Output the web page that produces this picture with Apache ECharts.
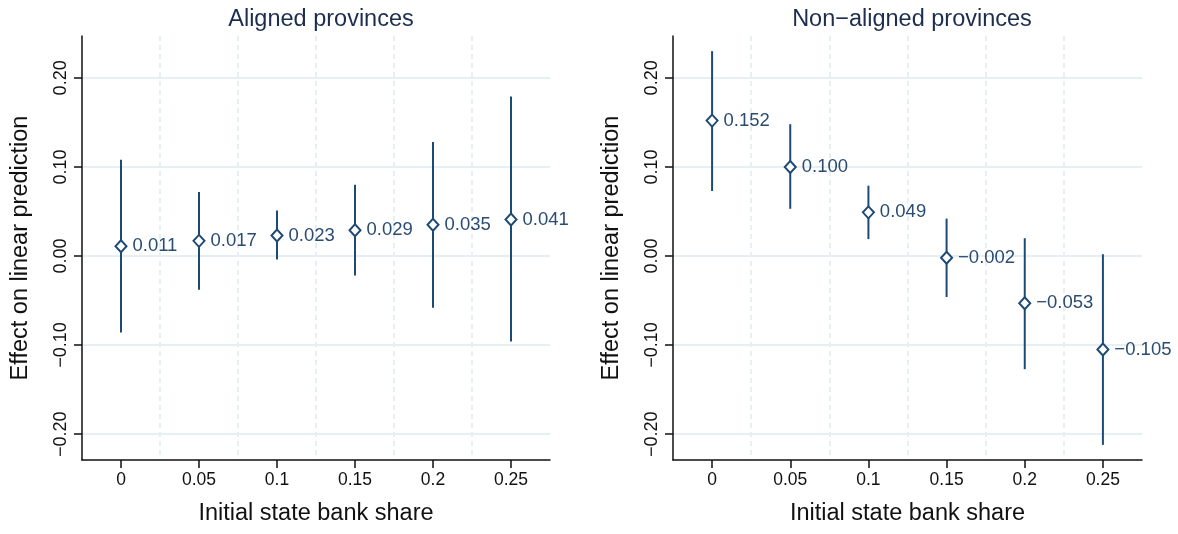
<!DOCTYPE html>
<html>
<head>
<meta charset="utf-8">
<script src="https://cdn.jsdelivr.net/npm/echarts@6/dist/echarts.min.js"></script>
<style>
    html, body { margin: 0; padding: 0; background: #ffffff; }
    #chart { width: 1178px; height: 534px; }
</style>
</head>
<body>
<div id="chart"></div>
<script>
var shares = ["0", "0.05", "0.1", "0.15", "0.2", "0.25"];
var yTicks = [-0.2, -0.1, 0, 0.1, 0.2];

// aligned provinces: point estimate and 95% CI
var alignedEst = [0.011, 0.017, 0.023, 0.029, 0.035, 0.041];
var alignedLo = [-0.086, -0.038, -0.004, -0.022, -0.058, -0.096];
var alignedHi = [0.108, 0.072, 0.051, 0.080, 0.128, 0.179];

// non-aligned provinces
var nonAlignedEst = [0.152, 0.100, 0.049, -0.002, -0.053, -0.105];
var nonAlignedLo = [0.073, 0.053, 0.019, -0.046, -0.127, -0.212];
var nonAlignedHi = [0.230, 0.148, 0.079, 0.042, 0.020, 0.002];

var navy = "#1d4a75";
var gridColor = "#e6eff1";
var font = "'Liberation Sans', Arial, sans-serif";

function fmt(v, d) {
    return v.toFixed(d).replace("-", "\u2212");
}

function points(est) {
    var out = [];
    for (var i = 0; i < est.length; i++) {
        out.push([i, est[i]]);
    }
    return out;
}

function bars(lo, hi) {
    var out = [];
    for (var i = 0; i < lo.length; i++) {
        out.push([i, lo[i], hi[i]]);
    }
    return out;
}

function renderBar(params, api) {
    var top = api.coord([api.value(0), api.value(2)]);
    var bottom = api.coord([api.value(0), api.value(1)]);
    return {
        type: "line",
        shape: { x1: top[0], y1: top[1], x2: bottom[0], y2: bottom[1] },
        style: { stroke: navy, lineWidth: 2 }
    };
}

function xAxisFor(idx) {
    return {
        type: "category",
        gridIndex: idx,
        data: shares,
        boundaryGap: true,
        name: "Initial state bank share",
        nameLocation: "middle",
        nameGap: 42,
        nameTextStyle: { fontSize: 23.5, color: "#111", fontFamily: font },
        axisLine: { onZero: false, lineStyle: { color: "#111", width: 1.5 } },
        axisTick: { show: true, alignWithLabel: true, length: 8, lineStyle: { color: "#111", width: 1.5 } },
        axisLabel: { fontSize: 17.5, color: "#111", margin: 11, fontFamily: font },
        splitLine: {
            show: true,
            showMinLine: false,
            showMaxLine: false,
            lineStyle: { color: gridColor, width: 2, type: [5, 4] }
        }
    };
}

function yAxisFor(idx) {
    return {
        type: "value",
        gridIndex: idx,
        min: -0.229,
        max: 0.247,
        name: "Effect on linear prediction",
        nameLocation: "middle",
        nameRotate: 90,
        nameGap: 49,
        nameTextStyle: { fontSize: 23.5, color: "#111", fontFamily: font },
        axisLine: { show: true, onZero: false, lineStyle: { color: "#111", width: 1.5 } },
        axisTick: { show: true, length: 8, customValues: yTicks, lineStyle: { color: "#111", width: 1.5 } },
        axisLabel: {
            rotate: 90,
            fontSize: 18,
            color: "#111",
            margin: 12,
            fontFamily: font,
            customValues: yTicks,
            formatter: function(v) { return fmt(v, 2); }
        },
        splitLine: { show: true, lineStyle: { color: gridColor, width: 2 } }
    };
}

function pointSeries(idx, est) {
    return {
        type: "scatter",
        xAxisIndex: idx,
        yAxisIndex: idx,
        data: points(est),
        symbol: "diamond",
        symbolSize: [11, 12],
        z: 5,
        itemStyle: { color: "#ffffff", borderColor: navy, borderWidth: 2, opacity: 1 },
        label: {
            show: true,
            position: "right",
            distance: 5,
            fontSize: 18.5,
            color: "#2b4c72",
            fontFamily: font,
            formatter: function(p) { return fmt(p.value[1], 3); }
        }
    };
}

function barSeries(idx, lo, hi) {
    return {
        type: "custom",
        xAxisIndex: idx,
        yAxisIndex: idx,
        data: bars(lo, hi),
        encode: { x: 0, y: [1, 2] },
        renderItem: renderBar,
        z: 2
    };
}

var myChart = echarts.init(document.getElementById("chart"));

var option = {
    animation: false,
    backgroundColor: "#ffffff",
    title: [{
        text: "Aligned provinces",
        left: 316,
        top: 3,
        textAlign: "center",
        textStyle: { fontSize: 23.5, fontWeight: "normal", color: "#1c2d50", fontFamily: font }
    }, {
        text: "Non\u2212aligned provinces",
        left: 907,
        top: 3,
        textAlign: "center",
        textStyle: { fontSize: 23.5, fontWeight: "normal", color: "#1c2d50", fontFamily: font }
    }],
    grid: [
        { left: 82, top: 36, width: 468, height: 424 },
        { left: 673, top: 36, width: 469, height: 424 }
    ],
    xAxis: [xAxisFor(0), xAxisFor(1)],
    yAxis: [yAxisFor(0), yAxisFor(1)],
    series: [
        barSeries(0, alignedLo, alignedHi),
        pointSeries(0, alignedEst),
        barSeries(1, nonAlignedLo, nonAlignedHi),
        pointSeries(1, nonAlignedEst)
    ]
};

myChart.setOption(option);
</script>
</body>
</html>
